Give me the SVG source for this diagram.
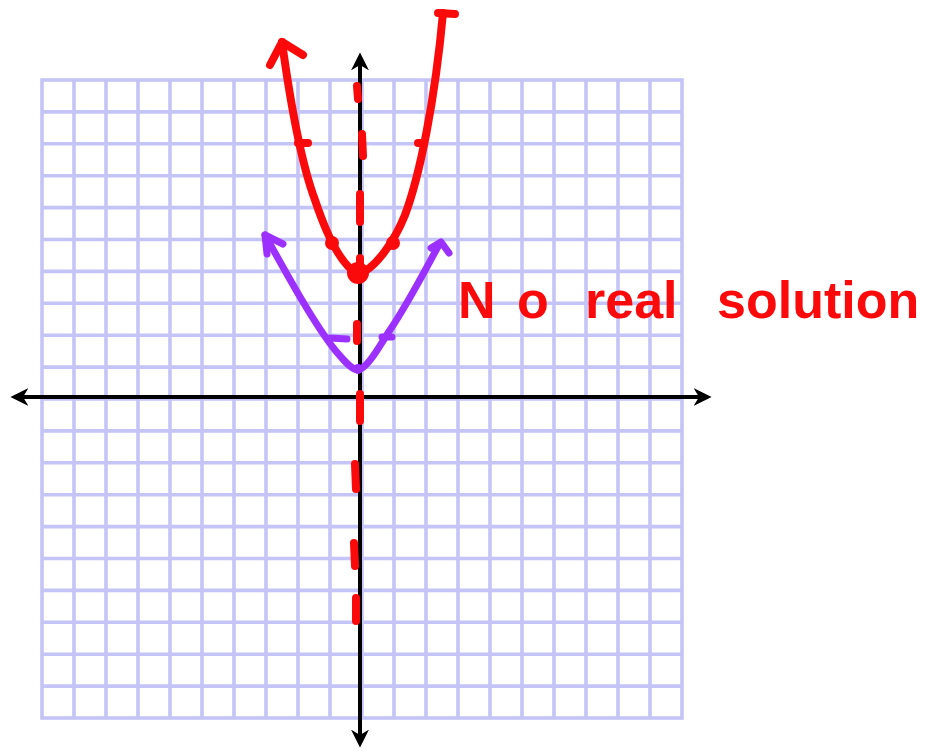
<svg xmlns="http://www.w3.org/2000/svg" width="939" height="751" viewBox="0 0 939 751">
<style>
.grid{stroke:#c4c4f7;stroke-width:3.6;fill:none}
.axis{stroke:#000;stroke-width:4;fill:none}
.red{stroke:#fa0a0a;stroke-width:8;fill:none;stroke-linecap:round;stroke-linejoin:round}
.purple{stroke:#9b30ff;stroke-width:7;fill:none;stroke-linecap:round;stroke-linejoin:round}
.label{font-family:"Liberation Sans",Arial,sans-serif;font-weight:bold;font-size:52px;fill:#fa0a0a}
</style>
<defs>
<marker id="ah" viewBox="0 0 10 10" refX="8" refY="5" markerWidth="4.5" markerHeight="4.5" orient="auto-start-reverse" markerUnits="strokeWidth">
<path d="M0,0 L10,5 L0,10 L3,5 Z" fill="#000"/>
</marker>
</defs>
<rect width="939" height="751" fill="#fff"/>
<g id="grid">
<rect x="42" y="80" width="640" height="638" fill="#fffffb" class="grid"/>
<path class="grid" d="M74,80V718M106,80V718M138,80V718M170,80V718M202,80V718M234,80V718M266,80V718M298,80V718M330,80V718M362,80V718M394,80V718M426,80V718M458,80V718M490,80V718M522,80V718M554,80V718M586,80V718M618,80V718M650,80V718M42,111.9H682M42,143.8H682M42,175.7H682M42,207.6H682M42,239.5H682M42,271.4H682M42,303.3H682M42,335.2H682M42,367.1H682M42,399H682M42,430.9H682M42,462.8H682M42,494.7H682M42,526.6H682M42,558.5H682M42,590.4H682M42,622.3H682M42,654.2H682M42,686.1H682"/>
</g>
<g id="axes">
<line class="axis" x1="14" y1="397" x2="708" y2="397" marker-start="url(#ah)" marker-end="url(#ah)"/>
<line class="axis" x1="360" y1="56" x2="360" y2="744" marker-start="url(#ah)" marker-end="url(#ah)"/>
</g>
<g id="axis-of-symmetry">
<path class="red" d="M357,86L358,99M362,134L363,156M360,194L360,222M360,258L360,268M357,324L357,341M360,394L360,421M355,464L356,489M354,543L355,566M356,598L356,621"/>
</g>
<g id="red-parabola">
<path class="red" d="M282,42C290,100 300,160 315,200C325,230 340,265 358,274C375,270 395,240 405,215C420,175 435,100 443,13"/>
<polyline class="red" points="270,65 282,42 303,55"/>
<line class="red" x1="438" y1="13" x2="455" y2="14"/>
<line class="red" x1="298" y1="143" x2="308" y2="143"/>
<line class="red" x1="418" y1="143" x2="423" y2="143"/>
<circle cx="358" cy="273" r="11" fill="#fa0a0a"/>
<circle cx="332" cy="243" r="7" fill="#fa0a0a"/>
<circle cx="393" cy="243" r="7" fill="#fa0a0a"/>
</g>
<g id="purple-parabola">
<path class="purple" d="M265,235C290,280 315,325 335,350C345,362 352,370 358,370C368,368 380,345 390,330C410,300 425,270 440,243"/>
<polyline class="purple" points="267,254 265,235 283,244"/>
<polyline class="purple" points="431,248 441,242 449,253"/>
<line class="purple" x1="330" y1="338" x2="347" y2="339"/>
<line class="purple" x1="382" y1="337" x2="392" y2="337"/>
<circle cx="358" cy="369" r="5" fill="#9b30ff"/>
</g>
<g id="label">
<text class="label" y="318"><tspan x="458">N</tspan><tspan x="517">o</tspan><tspan x="585">real</tspan><tspan x="717">solution</tspan></text>
</g>
</svg>
